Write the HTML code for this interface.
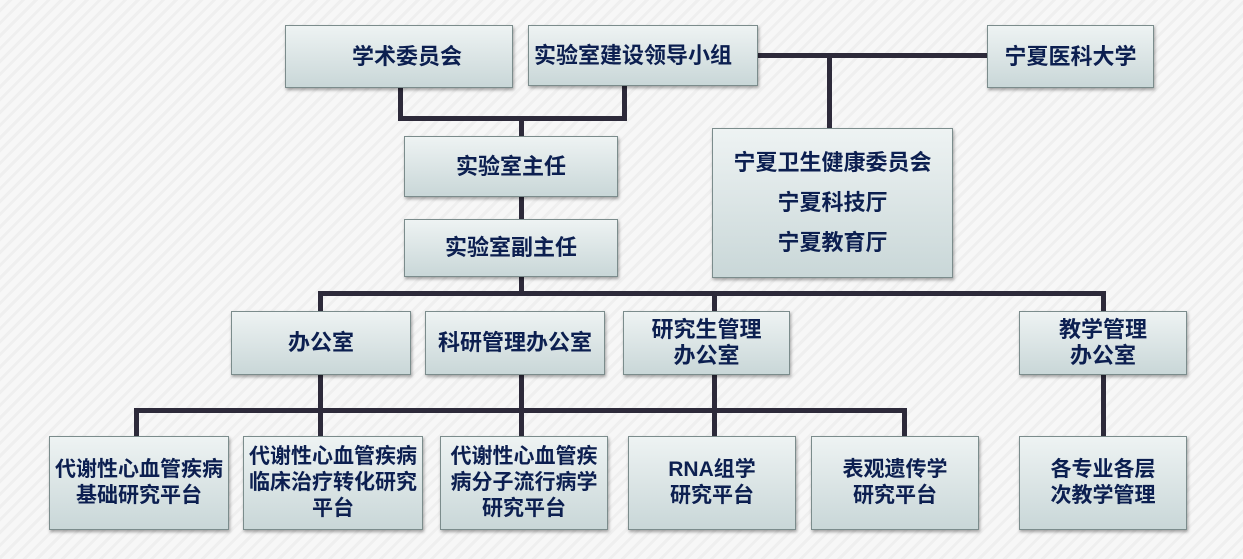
<!DOCTYPE html>
<html><head><meta charset="utf-8"><style>
html,body{margin:0;padding:0}
body{width:1243px;height:559px;position:relative;overflow:hidden;
background:repeating-linear-gradient(135deg,#f7f7f7 0 6px,#efefef 6px 9px);
font-family:"Liberation Sans","Noto Sans CJK SC",sans-serif}
.b{position:absolute;box-sizing:border-box;border:1px solid #7b8c8c;
background:linear-gradient(#eef3f3,#c9d7d8);box-shadow:1px 2px 3px rgba(0,0,0,.35);
display:flex;align-items:center;justify-content:center;text-align:center;
color:#0c1f50;font-weight:bold;font-size:22px;line-height:26px}
.s{font-size:21px;line-height:26px}
.l{position:absolute;background:#2d2a3a}
</style></head><body>
<div class="l" style="left:758px;top:53px;width:229px;height:5px"></div>
<div class="l" style="left:827px;top:53px;width:5px;height:75px"></div>
<div class="l" style="left:398px;top:88px;width:5px;height:32px"></div>
<div class="l" style="left:622px;top:86px;width:5px;height:34px"></div>
<div class="l" style="left:398px;top:116px;width:229px;height:5px"></div>
<div class="l" style="left:519px;top:116px;width:5px;height:20px"></div>
<div class="l" style="left:519px;top:197px;width:5px;height:22px"></div>
<div class="l" style="left:519px;top:277px;width:5px;height:16px"></div>
<div class="l" style="left:318px;top:291px;width:788px;height:5px"></div>
<div class="l" style="left:318px;top:291px;width:5px;height:20px"></div>
<div class="l" style="left:712px;top:291px;width:5px;height:20px"></div>
<div class="l" style="left:1101px;top:291px;width:5px;height:20px"></div>
<div class="l" style="left:318px;top:375px;width:5px;height:61px"></div>
<div class="l" style="left:519px;top:375px;width:5px;height:61px"></div>
<div class="l" style="left:712px;top:375px;width:5px;height:61px"></div>
<div class="l" style="left:1101px;top:375px;width:5px;height:61px"></div>
<div class="l" style="left:134px;top:408px;width:773px;height:5px"></div>
<div class="l" style="left:134px;top:408px;width:5px;height:28px"></div>
<div class="l" style="left:902px;top:408px;width:5px;height:28px"></div>
<div class="b" style="left:285px;top:25px;width:228px;height:63px;padding-left:16px">学术委员会</div>
<div class="b" style="left:528px;top:25px;width:230px;height:61px;justify-content:flex-start;padding-left:5px">实验室建设领导小组</div>
<div class="b" style="left:987px;top:25px;width:167px;height:63px">宁夏医科大学</div>
<div class="b" style="left:712px;top:128px;width:241px;height:150px;line-height:40px">宁夏卫生健康委员会<br>宁夏科技厅<br>宁夏教育厅</div>
<div class="b" style="left:404px;top:136px;width:214px;height:61px">实验室主任</div>
<div class="b" style="left:404px;top:219px;width:214px;height:58px">实验室副主任</div>
<div class="b" style="left:231px;top:311px;width:180px;height:64px">办公室</div>
<div class="b" style="left:425px;top:311px;width:180px;height:64px">科研管理办公室</div>
<div class="b" style="left:623px;top:311px;width:167px;height:64px">研究生管理<br>办公室</div>
<div class="b" style="left:1019px;top:311px;width:168px;height:64px">教学管理<br>办公室</div>
<div class="b s" style="left:49px;top:436px;width:180px;height:94px">代谢性心血管疾病<br>基础研究平台</div>
<div class="b s" style="left:243px;top:436px;width:180px;height:94px">代谢性心血管疾病<br>临床治疗转化研究<br>平台</div>
<div class="b s" style="left:440px;top:436px;width:168px;height:94px">代谢性心血管疾<br>病分子流行病学<br>研究平台</div>
<div class="b s" style="left:628px;top:436px;width:168px;height:94px">RNA组学<br>研究平台</div>
<div class="b s" style="left:811px;top:436px;width:168px;height:94px">表观遗传学<br>研究平台</div>
<div class="b s" style="left:1019px;top:436px;width:168px;height:94px">各专业各层<br>次教学管理</div>
</body></html>
